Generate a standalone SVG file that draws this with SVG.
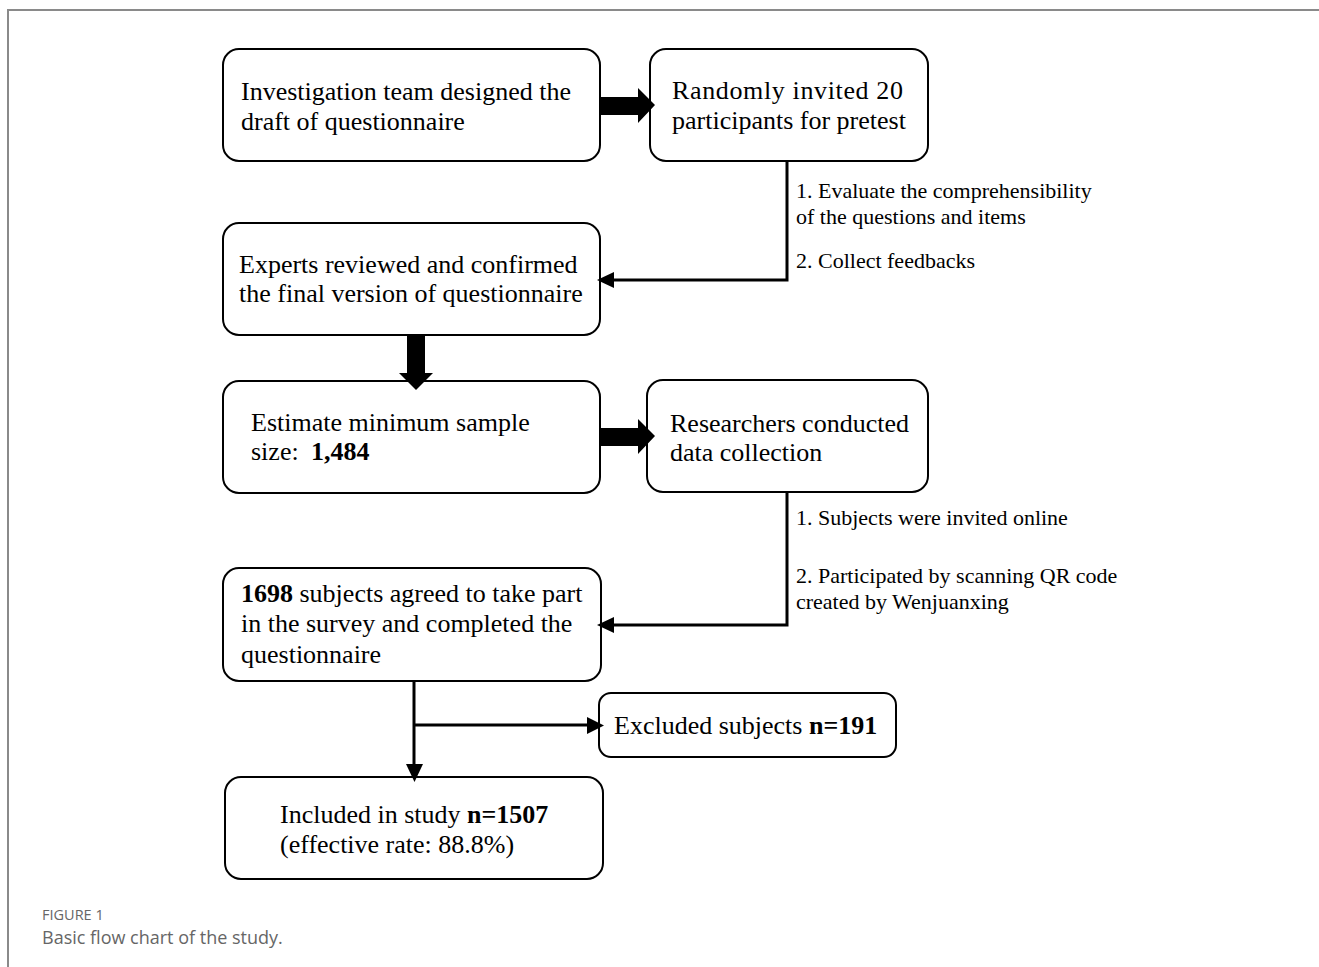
<svg xmlns="http://www.w3.org/2000/svg" width="1319" height="967" viewBox="0 0 1319 967">
<style>
.box{fill:#fff;stroke:#000;stroke-width:2}
.t{font-family:"Liberation Serif","Times New Roman",serif;font-size:26px;fill:#000}
.s{font-family:"Liberation Serif","Times New Roman",serif;font-size:22px;fill:#000}
.b{font-weight:bold}
.ln{fill:none;stroke:#000;stroke-width:3}
.cap1{font-family:"Open Sans","Noto Sans",sans-serif;font-size:14.5px;fill:#666}
.cap2{font-family:"Open Sans","Noto Sans",sans-serif;font-size:18px;fill:#666}
</style>
<rect width="1319" height="967" fill="#fff"/>
<path d="M1319 10 H8 V967" fill="none" stroke="#8a8a8a" stroke-width="2"/>

<g id="n1">
  <rect class="box" x="223" y="49" width="377" height="112" rx="16"/>
  <text class="t" x="241" y="100">Investigation team designed the</text>
  <text class="t" x="241" y="130">draft of questionnaire</text>
</g>
<g id="n2">
  <rect class="box" x="650" y="49" width="278" height="112" rx="16"/>
  <text class="t" x="672" y="99" textLength="231" lengthAdjust="spacing">Randomly invited 20</text>
  <text class="t" x="672" y="129">participants for pretest</text>
</g>
<g id="n3">
  <rect class="box" x="223" y="223" width="377" height="112" rx="16"/>
  <text class="t" x="239" y="273">Experts reviewed and confirmed</text>
  <text class="t" x="239" y="302">the final version of questionnaire</text>
</g>
<g id="n4">
  <rect class="box" x="223" y="381" width="377" height="112" rx="16"/>
  <text class="t" x="251" y="431">Estimate minimum sample</text>
  <text class="t" x="251" y="460">size:  <tspan class="b" x="311">1,484</tspan></text>
</g>
<g id="n5">
  <rect class="box" x="647" y="380" width="281" height="112" rx="16"/>
  <text class="t" x="670" y="432">Researchers conducted</text>
  <text class="t" x="670" y="461">data collection</text>
</g>
<g id="n6">
  <rect class="box" x="223" y="568" width="378" height="113" rx="16"/>
  <text class="t" x="241" y="602"><tspan class="b">1698</tspan> subjects agreed to take part</text>
  <text class="t" x="241" y="632">in the survey and completed the</text>
  <text class="t" x="241" y="663">questionnaire</text>
</g>
<g id="n7">
  <rect class="box" x="599" y="693" width="297" height="64" rx="12"/>
  <text class="t" x="614" y="734">Excluded subjects <tspan class="b">n=191</tspan></text>
</g>
<g id="n8">
  <rect class="box" x="225" y="777" width="378" height="102" rx="16"/>
  <text class="t" x="280" y="823">Included in study <tspan class="b">n=1507</tspan></text>
  <text class="t" x="280" y="853">(effective rate: 88.8%)</text>
</g>

<g id="connectors">
  <polygon points="601,97 638,97 638,88 655,105 638,123 638,115 601,115" fill="#000"/>
  <polygon points="407,336 425,336 425,373 433,373 416,390 399,373 407,373" fill="#000"/>
  <polygon points="601,428 638,428 638,419 655,436 638,454 638,446 601,446" fill="#000"/>
  <path class="ln" d="M787 162 V280 H612"/>
  <polygon points="614,272 597,280 614,288" fill="#000"/>
  <path class="ln" d="M787 493 V625 H612"/>
  <polygon points="614,617 597,625 614,633" fill="#000"/>
  <path class="ln" d="M414 682 V766"/>
  <polygon points="406,764 423,764 414.5,782" fill="#000"/>
  <path class="ln" d="M414 725 H590"/>
  <polygon points="587,717 604,725.5 587,734" fill="#000"/>
  <text class="s" x="796" y="198">1. Evaluate the comprehensibility</text>
  <text class="s" x="796" y="224">of the questions and items</text>
  <text class="s" x="796" y="268">2. Collect feedbacks</text>
  <text class="s" x="796" y="525">1. Subjects were invited online</text>
  <text class="s" x="796" y="583">2. Participated by scanning QR code</text>
  <text class="s" x="796" y="609">created by Wenjuanxing</text>
</g>

<text class="cap1" x="42" y="920">FIGURE 1</text>
<text class="cap2" x="42" y="944">Basic flow chart of the study.</text>
</svg>
